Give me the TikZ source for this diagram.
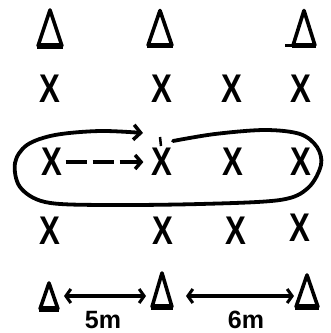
\documentclass[tikz,border=0pt]{standalone}
\usepackage{fontspec}
\setmainfont{Liberation Sans}
\usetikzlibrary{arrows.meta}
\begin{document}
\begin{tikzpicture}[x=1pt,y=-1pt,
  xm/.style={inner sep=0pt, font=\bfseries\fontsize{40}{40}\selectfont},
  trinode/.style={inner sep=0pt, outer sep=0pt},
  triside/.style={line width=3.6pt, line join=round, line cap=round},
  tribase/.style={line width=5.5pt},
  loopline/.style={line width=3.8pt, line cap=round, -{Straight Barb[length=7pt,width=15pt,line width=3.5pt]}},
  dasharrow/.style={line width=4.5pt, dash pattern=on 21pt off 6pt, -{Straight Barb[length=6pt,width=14pt,line width=3.5pt]}},
  dimarrow/.style={line width=3.4pt, {Straight Barb[length=5pt,width=14pt,line width=3pt]}-{Straight Barb[length=5pt,width=14pt,line width=3pt]}},
  lab/.style={inner sep=0pt, font=\bfseries\fontsize{25}{25}\selectfont, anchor=base}]
\fill[white] (0,0) rectangle (331,333);
\useasboundingbox (0,0) rectangle (331,333);
% triangles
\node[trinode, minimum width=24pt, minimum height=36pt] (t1) at (50,28) {};
\node[trinode, minimum width=24pt, minimum height=35pt] (t2) at (160,28) {};
\node[trinode, minimum width=22pt, minimum height=35pt] (t3) at (304,28) {};
\node[trinode, minimum width=18pt, minimum height=26pt] (b1) at (49,296) {};
\node[trinode, minimum width=20pt, minimum height=34pt] (b2) at (162,290) {};
\node[trinode, minimum width=22pt, minimum height=32pt] (b3) at (307,291) {};
\foreach \n in {t1,t2,t3,b1,b2,b3}{
  \draw[triside] (\n.south west) -- (\n.north) -- (\n.south east);
  \draw[tribase] ([xshift=-1pt]\n.south west) -- ([xshift=1pt]\n.south east);
}
\draw[line width=3pt] (t3.south west) -- ++(-8,0);
% X rows
\node[xm] (r1c1) at (50,89) {\scalebox{0.78}[1]{X}};
\node[xm] (r1c2) at (162,89) {\scalebox{0.78}[1]{X}};
\node[xm] (r1c3) at (232,89) {\scalebox{0.78}[1]{X}};
\node[xm] (r1c4) at (301,89) {\scalebox{0.78}[1]{X}};
\node[xm] (r2c1) at (52,162) {\scalebox{0.78}[1]{X}};
\node[xm] (r2c2) at (162,162) {\scalebox{0.78}[1]{X}};
\node[xm] (r2c3) at (233,162) {\scalebox{0.78}[1]{X}};
\node[xm] (r2c4) at (301,162) {\scalebox{0.78}[1]{X}};
\node[xm] (r3c1) at (50,231) {\scalebox{0.78}[1]{X}};
\node[xm] (r3c2) at (163,231) {\scalebox{0.78}[1]{X}};
\node[xm] (r3c3) at (236,231) {\scalebox{0.78}[1]{X}};
\node[xm] (r3c4) at (300,228) {\scalebox{0.78}[1]{X}};
% loop around the middle row
\coordinate (ls) at (173,141);
\coordinate (le) at (143,133);
\draw[loopline] plot[smooth, tension=0.55] coordinates {(ls) (215,134) (265,130) (300,134) (317,147) (321,165) (308,188) (280,200) (200,204) (100,205) (45,202) (20,187) (15,163) (27,145) (55,135) (100,131) (le)};
\draw[line width=2.5pt] (160,137) -- (161,146);
% dashed arrow
\draw[dasharrow, shorten <=3pt, shorten >=8pt] (r2c1.east) -- (r2c2.west);
% dimension arrows
\draw[dimarrow, shorten <=6pt, shorten >=6pt] (b1.east) -- (b1.east -| b2.west);
\draw[dimarrow, shorten <=14pt, shorten >=2pt] (b2.east |- b1.east) -- (b1.east -| b3.west);
\node[lab] (l5) at (103,328) {5m};
\node[lab] (l6) at (246,328) {6m};
\end{tikzpicture}
\end{document}
